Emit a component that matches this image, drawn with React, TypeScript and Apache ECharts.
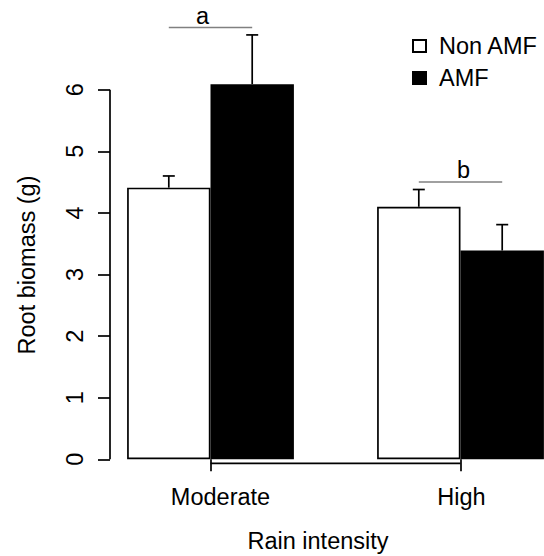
import React, { useEffect, useRef } from "react";
import * as echarts from "echarts";

// ---- data ----
const categories = ["Moderate", "High"];
const seriesNames = ["Non AMF", "AMF"];
const nonAmfMeans = [4.41, 4.1];
const nonAmfErrors = [0.19, 0.28];
const amfMeans = [6.09, 3.39];
const amfErrors = [0.8, 0.42];
const yTicks = [0, 1, 2, 3, 4, 5, 6];
const sigLetters = ["a", "b"];
const sigLevels = [7.01, 4.5];

// ---- style / layout ----
const FONT = "'Liberation Sans', Arial, Helvetica, sans-serif";
const FS = 23.5;
const W = 544;
const H = 556;
const GRID_LEFT = 85.5;
const GRID_WIDTH = 500;
const GRID_TOP = 3.5;
const GRID_BOTTOM = 96.7;
const Y_OFFSET = -24.5;
const X_OFFSET = 4;
const BAR_FRAC = 0.3336;
const LETTER_DX = [-8, 3];
const LW = 1.7;

function errorSeries(means: number[], errs: number[], side: number) {
  return {
    type: "custom",
    silent: true,
    z: 5,
    encode: { x: 0, y: [1, 2] },
    data: categories.map((_, i) => [i, means[i], means[i] + errs[i]]),
    renderItem: (params: any, api: any) => {
      const i = api.value(0);
      const base = api.coord([i, api.value(1)]);
      const top = api.coord([i, api.value(2)]);
      const band = api.size([1, 0])[0];
      const x = base[0] + (side * band * BAR_FRAC) / 2;
      const st = { stroke: "#000", lineWidth: LW };
      return {
        type: "group",
        children: [
          { type: "line", shape: { x1: x, y1: base[1], x2: x, y2: top[1] }, style: st },
          { type: "line", shape: { x1: x - 6, y1: top[1], x2: x + 6, y2: top[1] }, style: st },
        ],
      };
    },
  };
}

export default function App() {
  const ref = useRef<HTMLDivElement>(null);
  useEffect(() => {
    if (!ref.current) return;
    const chart = echarts.init(ref.current, null, { renderer: "svg" });
    chart.setOption({
      animation: false,
      backgroundColor: "#fff",
      grid: {
        left: GRID_LEFT,
        top: GRID_TOP,
        width: GRID_WIDTH,
        bottom: GRID_BOTTOM,
        containLabel: false,
        outerBoundsMode: "none",
      },
      legend: {
        data: seriesNames,
        orient: "vertical",
        left: 412,
        top: 33,
        padding: 0,
        icon: "rect",
        itemWidth: 13,
        itemHeight: 12,
        itemGap: 6,
        selectedMode: false,
        textStyle: {
          fontSize: FS,
          fontFamily: FONT,
          color: "#000",
          lineHeight: 26,
          padding: [0, 0, 0, 8],
        },
      },
      xAxis: {
        type: "category",
        data: categories,
        offset: X_OFFSET,
        axisLine: { show: false },
        axisTick: {
          show: true,
          alignWithLabel: true,
          length: 12,
          lineStyle: { color: "#000", width: LW },
        },
        axisLabel: {
          margin: 22,
          color: "#000",
          fontSize: FS,
          fontFamily: FONT,
          formatter: (v: string) => (v === "Moderate" ? "{m|" + v + "}" : "{h|" + v + "}"),
          rich: {
            m: { fontSize: FS, fontFamily: FONT, color: "#000", padding: [0, 0, 0, 20] },
            h: { fontSize: FS, fontFamily: FONT, color: "#000", padding: [0, 0, 0, 2] },
          },
        },
        splitLine: { show: false },
      },
      yAxis: {
        type: "value",
        min: 0,
        max: 7.4,
        offset: Y_OFFSET,
        splitLine: { show: false },
        axisLine: { show: false },
        axisTick: {
          show: true,
          length: 12,
          customValues: yTicks,
          lineStyle: { color: "#000", width: LW },
        },
        axisLabel: {
          customValues: yTicks,
          rotate: 90,
          margin: 23,
          color: "#000",
          fontSize: FS,
          fontFamily: FONT,
        },
      },
      series: [
        {
          name: seriesNames[0],
          type: "bar",
          data: nonAmfMeans,
          barWidth: (BAR_FRAC * 100).toFixed(2) + "%",
          barGap: "0%",
          itemStyle: { color: "#fff", borderColor: "#000", borderWidth: LW },
        },
        {
          name: seriesNames[1],
          type: "bar",
          data: amfMeans,
          barWidth: (BAR_FRAC * 100).toFixed(2) + "%",
          barGap: "0%",
          itemStyle: { color: "#000", borderColor: "#000", borderWidth: LW },
        },
        errorSeries(nonAmfMeans, nonAmfErrors, -1),
        errorSeries(amfMeans, amfErrors, 1),
        {
          type: "custom",
          silent: true,
          z: 6,
          encode: { x: 0, y: 1 },
          data: sigLevels.map((v, i) => [i, v]),
          renderItem: (params: any, api: any) => {
            const i = api.value(0);
            const p = api.coord([i, api.value(1)]);
            const band = api.size([1, 0])[0];
            const half = (band * BAR_FRAC) / 2;
            return {
              type: "group",
              children: [
                {
                  type: "line",
                  shape: { x1: p[0] - half, y1: p[1], x2: p[0] + half, y2: p[1] },
                  style: { stroke: "#808080", lineWidth: 1.5 },
                },
                {
                  type: "text",
                  x: p[0] + LETTER_DX[i],
                  y: p[1],
                  style: {
                    text: sigLetters[i],
                    fontSize: FS,
                    fontFamily: FONT,
                    fill: "#000",
                    align: "center",
                    verticalAlign: "bottom",
                  },
                },
              ],
            };
          },
        },
      ],
    });

    const p0 = chart.convertToPixel({ gridIndex: 0 }, [0, 0]) as number[];
    const p1 = chart.convertToPixel({ gridIndex: 0 }, [1, yTicks[yTicks.length - 1]]) as number[];
    const yAxisX = GRID_LEFT - Y_OFFSET;
    const xAxisY = p0[1] + X_OFFSET;
    chart.setOption({
      graphic: [
        {
          type: "line",
          shape: { x1: yAxisX, y1: p1[1], x2: yAxisX, y2: p0[1] },
          style: { stroke: "#000", lineWidth: LW },
        },
        {
          type: "line",
          shape: { x1: p0[0], y1: xAxisY, x2: p1[0], y2: xAxisY },
          style: { stroke: "#000", lineWidth: LW },
        },
        {
          type: "text",
          x: 318,
          y: 541,
          style: {
            text: "Rain intensity",
            fontSize: FS,
            fontFamily: FONT,
            fill: "#000",
            align: "center",
            verticalAlign: "middle",
          },
        },
        {
          type: "text",
          x: 27,
          y: 265,
          rotation: Math.PI / 2,
          style: {
            text: "Root biomass (g)",
            fontSize: FS,
            fontFamily: FONT,
            fill: "#000",
            align: "center",
            verticalAlign: "middle",
          },
        },
      ],
    });
    return () => chart.dispose();
  }, []);
  return (
    <div
      ref={ref}
      style={{ position: "fixed", left: 0, top: 0, width: W, height: H, background: "#fff" }}
    />
  );
}
